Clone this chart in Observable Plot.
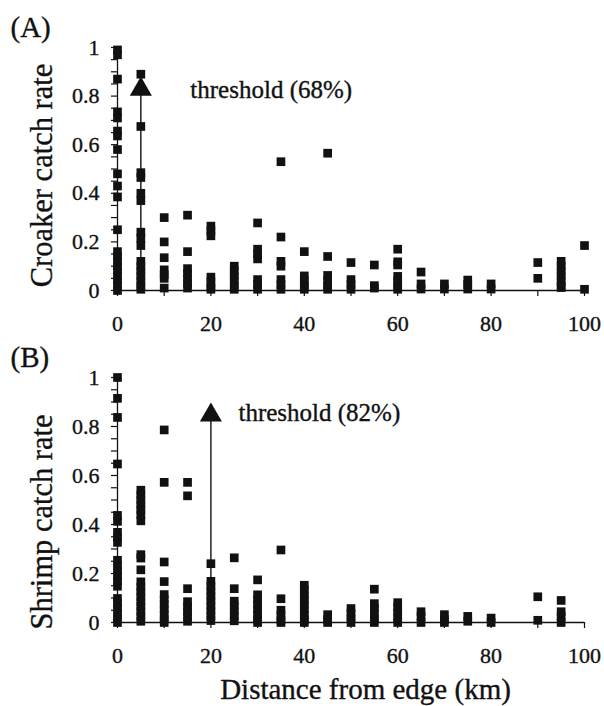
<!DOCTYPE html>
<html>
<head>
<meta charset="utf-8">
<script src="https://cdn.jsdelivr.net/npm/d3@7"></script>
<script src="https://cdn.jsdelivr.net/npm/@observablehq/plot@0.6"></script>
<style>
  html, body { margin: 0; padding: 0; background: #fff; }
  #chart svg { display: block; font-family: "Liberation Serif", "Times New Roman", serif !important; }
  #chart svg text, #chart svg tspan { font-family: "Liberation Serif", "Times New Roman", serif !important; }
</style>
</head>
<body>
<div id="chart"></div>
<script>
// ---- data ----
const distances = [0, 5, 10, 15, 20, 25, 30, 35, 40, 45, 50, 55, 60, 65, 70, 75, 80, 85, 90, 95, 100];

// Croaker catch rate readings, one list per distance
const croakerRates = [
  [0.99, 0.97, 0.87, 0.735, 0.71, 0.656, 0.636, 0.58, 0.48, 0.43, 0.385, 0.25, 0.16, 0.14, 0.12, 0.10, 0.08, 0.06, 0.04, 0.02, 0.0],
  [0.89, 0.675, 0.485, 0.465, 0.40, 0.37, 0.24, 0.215, 0.185, 0.12, 0.10, 0.08, 0.06, 0.04, 0.02, 0.005],
  [0.30, 0.20, 0.135, 0.085, 0.065, 0.05, 0.01],
  [0.31, 0.16, 0.09, 0.07, 0.05, 0.03, 0.01],
  [0.265, 0.245, 0.225, 0.055, 0.035, 0.015, 0.005],
  [0.10, 0.08, 0.06, 0.04, 0.02, 0.005],
  [0.278, 0.17, 0.15, 0.13, 0.045, 0.025, 0.005],
  [0.53, 0.22, 0.12, 0.10, 0.045, 0.025, 0.005],
  [0.16, 0.06, 0.04, 0.02, 0.005],
  [0.565, 0.14, 0.062, 0.04, 0.02, 0.005],
  [0.115, 0.045, 0.025, 0.005],
  [0.105, 0.02, 0.01],
  [0.17, 0.118, 0.105, 0.058, 0.04, 0.02, 0.005],
  [0.076, 0.027, 0.006],
  [0.027, 0.006],
  [0.043, 0.025, 0.006],
  [0.027, 0.006],
  [],
  [0.115, 0.05],
  [0.12, 0.10, 0.08, 0.06, 0.04, 0.02, 0.012],
  [0.185, 0.005]
];

// Shrimp catch rate readings, one list per distance
const shrimpRates = [
  [1.0, 0.915, 0.837, 0.647, 0.437, 0.413, 0.368, 0.348, 0.327, 0.254, 0.232, 0.21, 0.19, 0.17, 0.148, 0.098, 0.078, 0.058, 0.038, 0.018, 0.0],
  [0.54, 0.52, 0.50, 0.48, 0.46, 0.44, 0.415, 0.277, 0.263, 0.215, 0.166, 0.145, 0.125, 0.105, 0.085, 0.065, 0.045, 0.025, 0.005],
  [0.786, 0.572, 0.247, 0.167, 0.114, 0.094, 0.074, 0.054, 0.034, 0.014, 0.0],
  [0.572, 0.517, 0.138, 0.085, 0.065, 0.045, 0.025, 0.005],
  [0.24, 0.168, 0.148, 0.128, 0.108, 0.088, 0.068, 0.048, 0.028, 0.008],
  [0.264, 0.138, 0.087, 0.067, 0.047, 0.027, 0.007],
  [0.174, 0.113, 0.093, 0.073, 0.053, 0.033, 0.013, 0.0],
  [0.296, 0.097, 0.05, 0.03, 0.01, 0.0],
  [0.152, 0.132, 0.112, 0.092, 0.072, 0.052, 0.032, 0.012, 0.0],
  [0.032, 0.012, 0.0],
  [0.057, 0.037, 0.017, 0.0],
  [0.136, 0.077, 0.057, 0.037, 0.017, 0.0],
  [0.081, 0.061, 0.041, 0.021, 0.0],
  [0.044, 0.024, 0.0],
  [0.032, 0.012, 0.0],
  [0.025, 0.005],
  [0.018, 0.0],
  [],
  [0.105, 0.009],
  [0.09, 0.044, 0.024, 0.0],
  []
];

const panelTags = ["(A)", "(B)"];
const yLabels = ["Croaker catch rate", "Shrimp catch rate"];
const xLabel = "Distance from edge (km)";
const thresholdDistances = [5, 20];
const thresholdLabels = ["threshold (68%)", "threshold (82%)"];

const xTicks = [0, 20, 40, 60, 80, 100];
const xTickLabels = ["0", "20", "40", "60", "80", "100"];
const xMinorTicks = [0, 10, 20, 30, 40, 50, 60, 70, 80, 90, 100];
const yTicks = [0, 0.2, 0.4, 0.6, 0.8, 1];
const yTickLabels = ["0", "0.2", "0.4", "0.6", "0.8", "1"];
const yMinorTicks = [0, 0.05, 0.1, 0.15, 0.2, 0.25, 0.3, 0.35, 0.4, 0.45, 0.5, 0.55, 0.6, 0.65, 0.7, 0.75, 0.8, 0.85, 0.9, 0.95, 1];

// ---- layout (not data) ----
const FONT = "Liberation Serif";
const INK = "#111";
const TW = 0.35; // slight text weight, like the printed original
const layouts = [
  {height: 330, marginTop: 47, marginBottom: 40, yLabelDy: 6.5, head: 0.828, labelX: 15.6, labelY: 0.792, showXLabel: false},
  {height: 376, marginTop: 47, marginBottom: 84, yLabelDy: 22, head: 0.846, labelX: 25.9, labelY: 0.822, showXLabel: true}
];

function table(rates) {
  const rows = [];
  distances.forEach((d, i) => rates[i].forEach(v => rows.push({distance: d, rate: v})));
  return rows;
}

const container = document.getElementById("chart");

[croakerRates, shrimpRates].forEach((rates, p) => {
  const L = layouts[p];
  const thr = [{x: thresholdDistances[p], label: thresholdLabels[p]}];
  const textStyle = {fill: INK, fontFamily: FONT, stroke: INK, strokeWidth: TW};
  const marks = [
    // y axis: minor ticks and labels
    Plot.axisY({ticks: yMinorTicks, tickSize: 6, stroke: INK, strokeWidth: 1.2, fill: "none", label: null, tickFormat: () => ""}),
    Plot.axisY({ticks: yTicks, tickSize: 0, tickPadding: 18, label: null, fontSize: 22, fill: INK, fontFamily: FONT,
      textStroke: INK, textStrokeWidth: TW,
      tickFormat: d => yTickLabels[yTicks.indexOf(d)]}),
    // x axis: ticks every 10, labels every 20
    Plot.axisX({ticks: xMinorTicks, tickSize: 6, stroke: INK, strokeWidth: 1.2, fill: "none", label: null, tickFormat: () => ""}),
    Plot.axisX({ticks: xTicks, tickSize: 0, tickPadding: 25, label: null, fontSize: 22, fill: INK, fontFamily: FONT,
      textStroke: INK, textStrokeWidth: TW,
      tickFormat: d => xTickLabels[xTicks.indexOf(d)]}),
    Plot.ruleX([0], {stroke: INK, strokeWidth: 1.3}),
    Plot.ruleY([0], {stroke: INK, strokeWidth: 1.3}),
    // threshold arrow
    Plot.ruleX(thr, {x: "x", y1: 0, y2: L.head, stroke: INK, strokeWidth: 1.4}),
    Plot.dot(thr, {x: "x", y: () => L.head, symbol: "triangle", r: 8.2, fill: INK, stroke: "none"}),
    Plot.text(thr, {x: () => L.labelX, y: () => L.labelY, text: "label", textAnchor: "start", lineAnchor: "bottom",
      fontSize: 25, ...textStyle}),
    // data points
    Plot.dot(table(rates), {x: "distance", y: "rate", symbol: "square", r: 4.9, fill: INK, stroke: "none"}),
    // panel tag
    Plot.text([panelTags[p]], {frameAnchor: "top-left", dx: -107, dy: -11, textAnchor: "start", lineAnchor: "bottom",
      fontSize: 29, ...textStyle}),
    // y label
    Plot.text([yLabels[p]], {frameAnchor: "left", dx: -66, dy: L.yLabelDy, rotate: -90, textAnchor: "middle",
      lineAnchor: "bottom", fontSize: 30.5, ...textStyle})
  ];
  if (L.showXLabel) {
    marks.push(Plot.text([xLabel], {frameAnchor: "bottom", dx: 14.5, dy: 76, textAnchor: "middle", lineAnchor: "bottom",
      fontSize: 29, ...textStyle}));
  }
  const chart = Plot.plot({
    width: 604,
    height: L.height,
    marginLeft: 117,
    marginRight: 20,
    marginTop: L.marginTop,
    marginBottom: L.marginBottom,
    style: {fontFamily: FONT, background: "#fff", color: INK, overflow: "visible"},
    x: {domain: [0, 100]},
    y: {domain: [0, 1]},
    marks
  });
  container.appendChild(chart);
});
</script>
</body>
</html>
